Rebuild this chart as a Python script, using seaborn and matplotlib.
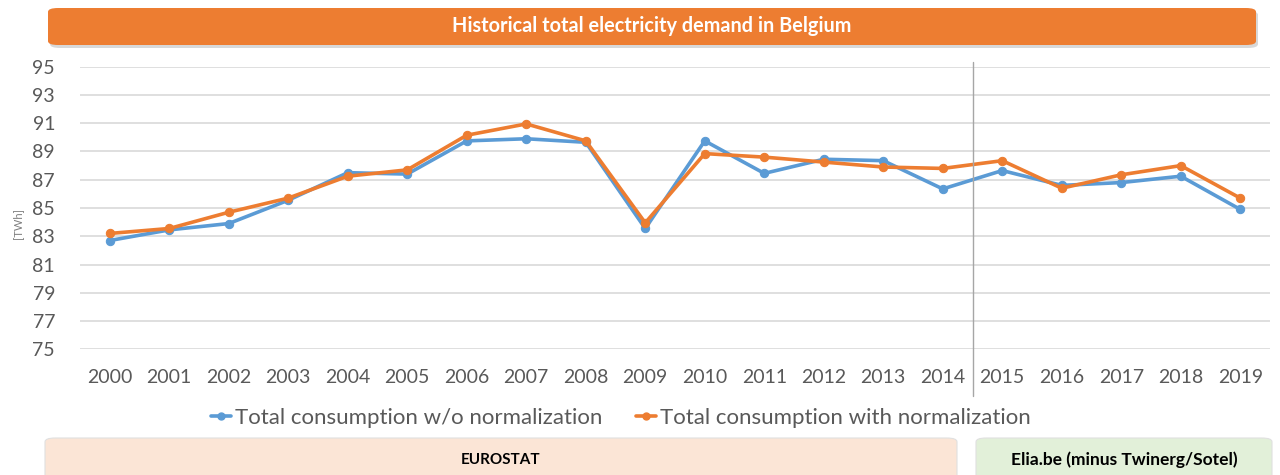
import matplotlib
matplotlib.use("Agg")
import matplotlib.pyplot as plt
import numpy as np
import pandas as pd
import seaborn as sns
from matplotlib.patches import FancyBboxPatch
from matplotlib.lines import Line2D

YEARS = list(range(2000, 2020))
WITHOUT_NORM = [82.7, 83.45, 83.9, 85.55, 87.5, 87.4, 89.75, 89.9, 89.65, 83.55,
                89.75, 87.45, 88.45, 88.35, 86.35, 87.65, 86.6, 86.8, 87.25, 84.9]
WITH_NORM = [83.2, 83.55, 84.7, 85.7, 87.25, 87.7, 90.15, 90.95, 89.75, 83.95,
             88.85, 88.6, 88.25, 87.9, 87.8, 88.35, 86.4, 87.35, 88.0, 85.7]
Y_TICKS = list(range(75, 96, 2))

BLUE = "#5B9BD5"
ORANGE = "#ED7D31"
TEXT_GRAY = "#595959"

sns.set_theme(style="white")
plt.rcParams["font.family"] = ["Lato", "DejaVu Sans"]

df = pd.DataFrame({"year": YEARS, "without": WITHOUT_NORM, "with": WITH_NORM})

fig = plt.figure(figsize=(12.8, 4.75), dpi=100)
ax = fig.add_axes([0.0625, 0.2646, 0.9297, 0.595])

sns.lineplot(data=df, x="year", y="without", ax=ax, color=BLUE, lw=2.6,
             marker="o", markersize=6, markeredgecolor=BLUE)
sns.lineplot(data=df, x="year", y="with", ax=ax, color=ORANGE, lw=2.6,
             marker="o", markersize=6, markeredgecolor=ORANGE)

ax.set_xlim(YEARS[0] - 0.5, YEARS[-1] + 0.5)
ax.set_ylim(75, 95)
ax.set_xticks(YEARS)
ax.set_yticks(Y_TICKS)
ax.tick_params(axis="x", length=0, pad=14, labelsize=14, labelcolor=TEXT_GRAY)
ax.tick_params(axis="y", length=0, pad=18, labelsize=14, labelcolor=TEXT_GRAY)
ax.yaxis.grid(True, color="#D9D9D9", lw=1.2)
ax.set_axisbelow(True)
sns.despine(ax=ax, left=True, bottom=True)
ax.set_xlabel("")
ax.set_ylabel("")
fig.text(0.014, 0.53, "[TWh]", rotation=90, fontsize=8, color="#7F7F7F",
         ha="center", va="center")

# separator between data sources
ax.axvline(2014.5, ymin=-0.165, ymax=1.017, color="#A6A6A6", lw=1, clip_on=False)

handles = [Line2D([], [], color=BLUE, lw=2.6, marker="o", markersize=5),
           Line2D([], [], color=ORANGE, lw=2.6, marker="o", markersize=5)]
fig.legend(handles, ["Total consumption w/o normalization",
                     "Total consumption with normalization"],
           loc="center", bbox_to_anchor=(0.485, 0.12), ncol=2, frameon=False,
           fontsize=16, handlelength=0.9, handletextpad=0.2, columnspacing=1.5,
           labelcolor=TEXT_GRAY)

W, H = 1280, 475


def banner(x0, y0, x1, y1, face, text, tcolor, size, shadow=False):
    if shadow:
        fig.patches.append(FancyBboxPatch(
            ((x0 + 2) / W, 1 - (y1 + 3) / H), (x1 - x0) / W, (y1 - y0) / H,
            boxstyle="round,pad=0,rounding_size=0.008", transform=fig.transFigure,
            facecolor="#BFBFBF", edgecolor="none", alpha=0.6))
    fig.patches.append(FancyBboxPatch(
        (x0 / W, 1 - y1 / H), (x1 - x0) / W, (y1 - y0) / H,
        boxstyle="round,pad=0,rounding_size=0.008", transform=fig.transFigure,
        facecolor=face, edgecolor="#E0E0E0" if not shadow else "none", lw=0.8))
    fig.text((x0 + x1) / 2 / W, 1 - (y0 + y1) / 2 / H, text, color=tcolor,
             fontsize=size, fontweight="bold", ha="center", va="center")


banner(48, 8, 1256, 45, ORANGE, "Historical total electricity demand in Belgium",
       "white", 14.3, shadow=True)
banner(45, 438, 957, 482, "#FBE5D6", "EUROSTAT", "black", 11)
banner(976, 438, 1272, 482, "#E2F0D9", "Elia.be (minus Twinerg/Sotel)", "black", 12.5)

fig.savefig("out.png", dpi=100)
